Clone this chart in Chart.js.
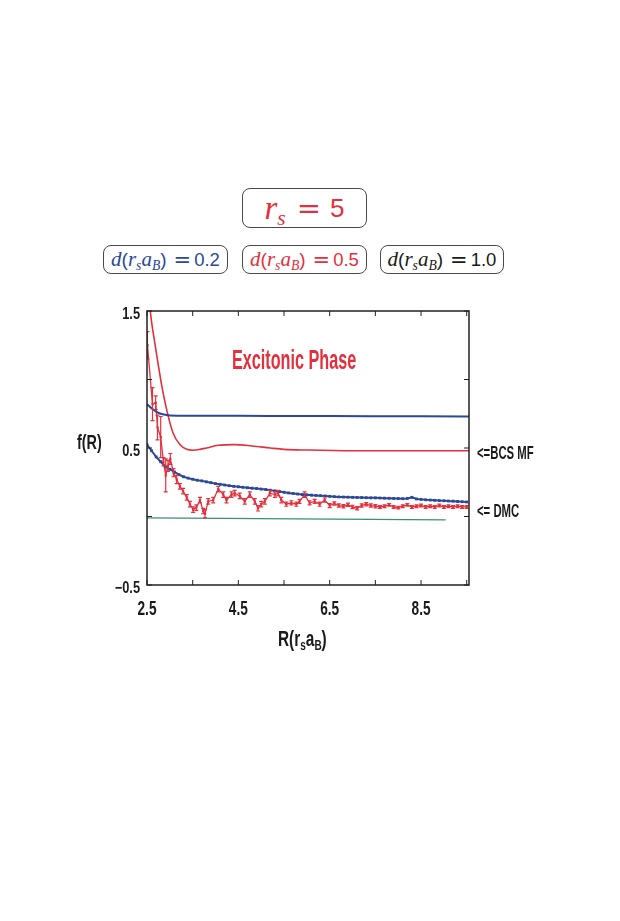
<!DOCTYPE html>
<html>
<head>
<meta charset="utf-8">
<script src="https://cdn.jsdelivr.net/npm/chart.js@4.4.0/dist/chart.umd.min.js"></script>
<style>
  body { margin: 0; background: #fff; width: 620px; height: 921px; position: relative; overflow: hidden; }
  .box { position: absolute; border: 1.5px solid #4a4a4a; border-radius: 8px; box-sizing: border-box;
         display: flex; align-items: center; justify-content: center; white-space: nowrap; }
  .mi { font-family: 'Liberation Serif', 'DejaVu Serif', serif; font-style: italic; }
  .mn { font-family: 'Liberation Sans', 'DejaVu Sans', sans-serif; }
  .eq { font-family: 'DejaVu Sans', sans-serif; }
  .lbl { position: absolute; font-family: 'Liberation Sans', 'DejaVu Sans', sans-serif; font-weight: bold;
         white-space: nowrap; color: #1a1a1a; transform-origin: 0 50%; line-height: 1; }
  sub { font-size: 65%; vertical-align: -0.3em; line-height: 0; }
  #wrap { position: absolute; left: 0; top: 290px; width: 620px; height: 380px; }
</style>
</head>
<body>

<div class="box" style="left:242px; top:188px; width:125px; height:40px; color:#e3303c;">
  <span class="mi" style="font-size:33px;">r<sub>s</sub></span><span class="eq" style="font-size:29px; margin:0 9px 0 11px;">=</span><span class="mn" style="font-size:26px;">5</span>
</div>

<div class="box" style="left:103px; top:245px; width:125px; height:29px; color:#2b4899;">
  <span class="mi" style="font-size:21px;">d</span><span class="mn" style="font-size:19px;">(</span><span class="mi" style="font-size:21px;">r<sub>s</sub>a<sub>B</sub></span><span class="mn" style="font-size:19px;">)</span><span class="eq" style="font-size:21px; margin:0 3px 0 7px;">=</span><span class="mn" style="font-size:18.5px;">0.2</span>
</div>
<div class="box" style="left:242px; top:245px; width:125px; height:29px; color:#e3303c;">
  <span class="mi" style="font-size:21px;">d</span><span class="mn" style="font-size:19px;">(</span><span class="mi" style="font-size:21px;">r<sub>s</sub>a<sub>B</sub></span><span class="mn" style="font-size:19px;">)</span><span class="eq" style="font-size:21px; margin:0 3px 0 7px;">=</span><span class="mn" style="font-size:18.5px;">0.5</span>
</div>
<div class="box" style="left:380px; top:245px; width:124px; height:29px; color:#1a1a1a;">
  <span class="mi" style="font-size:21px;">d</span><span class="mn" style="font-size:19px;">(</span><span class="mi" style="font-size:21px;">r<sub>s</sub>a<sub>B</sub></span><span class="mn" style="font-size:19px;">)</span><span class="eq" style="font-size:21px; margin:0 3px 0 7px;">=</span><span class="mn" style="font-size:18.5px;">1.0</span>
</div>

<div id="wrap"><canvas id="grafico" width="620" height="380"></canvas></div>

<div class="lbl" style="left:232px; top:347px; font-size:27px; color:#e3303c; transform:scaleX(0.6);">Excitonic Phase</div>
<div class="lbl" style="left:77px; top:432px; font-size:20px; transform:scaleX(0.72);">f(R)</div>
<div class="lbl" style="left:477px; top:444px; font-size:18px; transform:scaleX(0.63);">&lt;=BCS MF</div>
<div class="lbl" style="left:477px; top:502px; font-size:18px; transform:scaleX(0.63);">&lt;= DMC</div>
<div class="lbl" style="left:278px; top:628px; font-size:22px; transform:scaleX(0.7);">R(r<sub>s</sub>a<sub>B</sub>)</div>

<script>
// BCS mean field curves
var mfAzulX = [2.5, 2.6, 2.7, 2.8, 2.9, 3.0, 3.5, 4.5, 6.5, 8.5, 9.55];
var mfAzulY = [0.82, 0.79, 0.765, 0.75, 0.742, 0.738, 0.736, 0.735, 0.733, 0.731, 0.73];

var mfVermX = [2.54, 2.6, 2.67, 2.75, 2.82, 2.93, 3.07, 3.22, 3.37, 3.51, 3.66, 3.8, 4.06, 4.42, 4.8, 5.2, 5.5, 6.0, 7.0, 8.0, 9.0, 9.55];
var mfVermY = [1.6, 1.42, 1.27, 1.10, 0.96, 0.78, 0.61, 0.525, 0.49, 0.484, 0.49, 0.50, 0.52, 0.525, 0.515, 0.50, 0.49, 0.485, 0.48, 0.48, 0.48, 0.48];

// DMC d=0.2
var dmcAzulX = [2.5, 2.6, 2.7, 2.8, 2.9, 3.0, 3.1, 3.2, 3.3, 3.4,
    3.5, 3.6, 3.7, 3.8, 3.9, 4.0, 4.1, 4.2, 4.3, 4.4,
    4.5, 4.6, 4.7, 4.8, 4.9, 5.0, 5.1, 5.2, 5.3, 5.4,
    5.5, 5.6, 5.7, 5.8, 5.9, 6.0, 6.1, 6.2, 6.3, 6.4,
    6.5, 6.6, 6.7, 6.8, 6.9, 7.0, 7.1, 7.2, 7.3, 7.4,
    7.5, 7.6, 7.7, 7.8, 7.9, 8.0, 8.1, 8.2, 8.3, 8.4,
    8.5, 8.6, 8.7, 8.8, 8.9, 9.0, 9.1, 9.2, 9.3, 9.4, 9.5];
var dmcAzulY = [0.525, 0.48, 0.435, 0.40, 0.365, 0.345, 0.325, 0.305, 0.29, 0.28,
    0.272, 0.265, 0.26, 0.253, 0.247, 0.24, 0.235, 0.23, 0.225, 0.22,
    0.217, 0.213, 0.21, 0.207, 0.204, 0.20, 0.197, 0.192, 0.187, 0.182,
    0.177, 0.172, 0.168, 0.164, 0.16, 0.158, 0.156, 0.154, 0.152, 0.15,
    0.147, 0.145, 0.143, 0.142, 0.141, 0.14, 0.139, 0.138, 0.137, 0.136,
    0.136, 0.135, 0.134, 0.133, 0.132, 0.131, 0.13, 0.132, 0.14, 0.128,
    0.125, 0.122, 0.12, 0.118, 0.116, 0.115, 0.113, 0.112, 0.11, 0.108, 0.106];

// DMC d=0.5 with error bars
var dmcVermX = [2.51, 2.62, 2.69, 2.73, 2.80, 2.86, 2.91, 2.96, 3.01, 3.08,
    3.15, 3.22, 3.29, 3.37, 3.44, 3.51, 3.58, 3.66, 3.73, 3.77,
    3.84, 3.95, 4.06, 4.17, 4.24, 4.35, 4.42, 4.53, 4.64, 4.75,
    4.86, 4.93, 5.00, 5.08, 5.19, 5.30, 5.37, 5.44, 5.55, 5.66,
    5.77, 5.84, 5.95, 6.06, 6.17, 6.28, 6.39, 6.50, 6.60, 6.70,
    6.80, 6.90, 7.00, 7.10, 7.20, 7.30, 7.40, 7.50, 7.60, 7.70,
    7.80, 7.90, 8.00, 8.10, 8.20, 8.30, 8.40, 8.50, 8.60, 8.70,
    8.80, 8.90, 9.00, 9.10, 9.20, 9.30, 9.40, 9.50];
var dmcVermY = [1.25, 0.82, 0.83, 0.65, 0.58, 0.40, 0.30, 0.37, 0.42, 0.32,
    0.27, 0.22, 0.185, 0.14, 0.09, 0.05, 0.065, 0.12, 0.04, 0.02,
    0.11, 0.12, 0.20, 0.16, 0.12, 0.16, 0.17, 0.15, 0.11, 0.16,
    0.11, 0.06, 0.09, 0.11, 0.17, 0.16, 0.17, 0.12, 0.09, 0.10,
    0.09, 0.11, 0.16, 0.10, 0.11, 0.09, 0.12, 0.08, 0.095, 0.08,
    0.075, 0.085, 0.07, 0.06, 0.08, 0.09, 0.08, 0.075, 0.07, 0.075,
    0.085, 0.07, 0.065, 0.075, 0.085, 0.07, 0.075, 0.08, 0.07, 0.075,
    0.07, 0.08, 0.07, 0.075, 0.07, 0.075, 0.07, 0.07];
var dmcVermErro = [0.10, 0.12, 0.05, 0.09, 0.15, 0.03, 0.12, 0.04, 0.04, 0.03,
    0.03, 0.02, 0.02, 0.02, 0.02, 0.02, 0.02, 0.02, 0.02, 0.03,
    0.02, 0.02, 0.02, 0.02, 0.02, 0.02, 0.02, 0.02, 0.02, 0.02,
    0.02, 0.02, 0.02, 0.02, 0.02, 0.02, 0.02, 0.02, 0.015, 0.015,
    0.015, 0.015, 0.02, 0.015, 0.015, 0.015, 0.015, 0.015, 0.012, 0.012,
    0.012, 0.012, 0.012, 0.012, 0.012, 0.012, 0.012, 0.012, 0.01, 0.01,
    0.01, 0.01, 0.01, 0.01, 0.01, 0.01, 0.01, 0.01, 0.01, 0.01,
    0.01, 0.01, 0.01, 0.01, 0.01, 0.01, 0.01, 0.01];

// green reference line
var zeroX = [2.5, 9.04];
var zeroY = [-0.01, -0.025];

var ticksX = [2.5, 3.5, 4.5, 5.5, 6.5, 7.5, 8.5, 9.5];
var rotulosX = [2.5, 4.5, 6.5, 8.5];
var ticksY = [-0.5, 0, 0.5, 1.0, 1.5];
var rotulosY = [-0.5, 0.5, 1.5];

var AZUL = '#2b4899';
var VERM = '#e3303c';
var FONTE = "'Liberation Sans', 'DejaVu Sans', sans-serif";

function pontos(xs, ys) {
    return xs.map((x, i) => ({ x: x, y: ys[i] }));
}

function textoEstreito(ctx, txt, x, y, escala, alinha) {
    ctx.save();
    ctx.translate(x, y);
    ctx.scale(escala, 1);
    ctx.textAlign = alinha;
    ctx.textBaseline = 'alphabetic';
    ctx.fillText(txt, 0, 0);
    ctx.restore();
}

// frame, inward ticks and condensed tick labels
var moldura = {
    id: 'moldura',
    afterDraw(chart) {
        var ctx = chart.ctx, a = chart.chartArea;
        var sx = chart.scales.x, sy = chart.scales.y;
        ctx.save();
        ctx.strokeStyle = '#222';
        ctx.lineWidth = 1.5;
        ctx.strokeRect(a.left, a.top, a.right - a.left, a.bottom - a.top);
        ctx.lineWidth = 1;
        ctx.beginPath();
        ticksX.forEach(v => {
            var px = sx.getPixelForValue(v);
            ctx.moveTo(px, a.bottom); ctx.lineTo(px, a.bottom - 5);
            ctx.moveTo(px, a.top); ctx.lineTo(px, a.top + 5);
        });
        ticksY.forEach(v => {
            var py = sy.getPixelForValue(v);
            ctx.moveTo(a.left, py); ctx.lineTo(a.left + 5, py);
            ctx.moveTo(a.right, py); ctx.lineTo(a.right - 5, py);
        });
        ctx.stroke();

        ctx.fillStyle = '#1a1a1a';
        ctx.font = 'bold 16px ' + FONTE;
        rotulosY.forEach(v => {
            var t = v < 0 ? '\u2212' + Math.abs(v).toFixed(1) : v.toFixed(1);
            textoEstreito(ctx, t, a.left - 7, sy.getPixelForValue(v) + 8, 0.8, 'right');
        });
        ctx.font = 'bold 21px ' + FONTE;
        rotulosX.forEach(v => {
            textoEstreito(ctx, v.toFixed(1), sx.getPixelForValue(v), a.bottom + 30, 0.65, 'center');
        });
        ctx.restore();
    }
};

var barrasErro = {
    id: 'barrasErro',
    afterDatasetsDraw(chart) {
        var ctx = chart.ctx, sx = chart.scales.x, sy = chart.scales.y, a = chart.chartArea;
        ctx.save();
        ctx.beginPath();
        ctx.rect(a.left, a.top, a.right - a.left, a.bottom - a.top);
        ctx.clip();
        ctx.strokeStyle = VERM;
        ctx.lineWidth = 1.2;
        ctx.beginPath();
        dmcVermX.forEach((x, i) => {
            var px = sx.getPixelForValue(x);
            var y1 = sy.getPixelForValue(dmcVermY[i] + dmcVermErro[i]);
            var y2 = sy.getPixelForValue(dmcVermY[i] - dmcVermErro[i]);
            ctx.moveTo(px, y1); ctx.lineTo(px, y2);
            ctx.moveTo(px - 2, y1); ctx.lineTo(px + 2, y1);
            ctx.moveTo(px - 2, y2); ctx.lineTo(px + 2, y2);
        });
        ctx.stroke();
        ctx.restore();
    }
};

var grafico = new Chart(document.getElementById('grafico').getContext('2d'), {
    type: 'line',
    data: {
        datasets: [{
            label: 'MF d=0.2',
            data: pontos(mfAzulX, mfAzulY),
            borderColor: AZUL,
            borderWidth: 2,
            pointRadius: 0,
            cubicInterpolationMode: 'monotone'
        }, {
            label: 'MF d=0.5',
            data: pontos(mfVermX, mfVermY),
            borderColor: VERM,
            borderWidth: 1.6,
            pointRadius: 0,
            cubicInterpolationMode: 'monotone'
        }, {
            label: 'DMC d=0.2',
            data: pontos(dmcAzulX, dmcAzulY),
            borderColor: AZUL,
            backgroundColor: AZUL,
            borderWidth: 2,
            pointStyle: 'rect',
            pointRadius: 2,
            pointBorderWidth: 0
        }, {
            label: 'DMC d=0.5',
            data: pontos(dmcVermX, dmcVermY),
            borderColor: VERM,
            backgroundColor: VERM,
            borderWidth: 1.3,
            pointStyle: 'rect',
            pointRadius: 1.6,
            pointBorderWidth: 0
        }, {
            label: 'zero',
            data: pontos(zeroX, zeroY),
            borderColor: '#3c8f6f',
            borderWidth: 1.2,
            pointRadius: 0
        }]
    },
    options: {
        responsive: false,
        animation: false,
        layout: { padding: { left: 0, right: 151, top: 21, bottom: 0 } },
        plugins: { legend: { display: false }, tooltip: { enabled: false } },
        scales: {
            x: {
                type: 'linear',
                min: 2.5,
                max: 9.55,
                afterFit: s => { s.height = 85; },
                afterBuildTicks: s => { s.ticks = ticksX.map(v => ({ value: v })); },
                grid: { display: false, drawTicks: false },
                border: { display: false },
                ticks: { display: false }
            },
            y: {
                min: -0.5,
                max: 1.5,
                afterFit: s => { s.width = 147; },
                afterBuildTicks: s => { s.ticks = ticksY.map(v => ({ value: v })); },
                grid: { display: false, drawTicks: false },
                border: { display: false },
                ticks: { display: false }
            }
        }
    },
    plugins: [moldura, barrasErro]
});
</script>
</body>
</html>
